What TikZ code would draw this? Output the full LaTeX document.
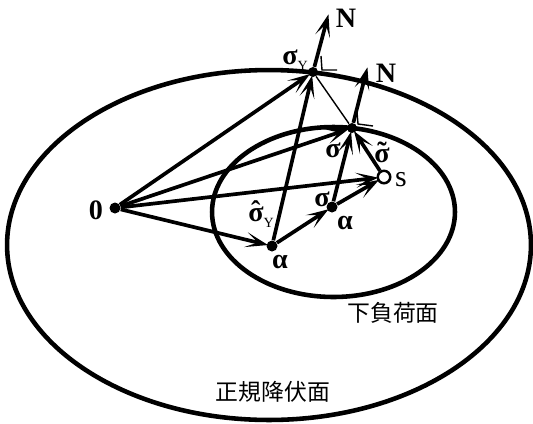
\documentclass[tikz,border=0pt]{standalone}
\usepackage{fontspec}
\setmainfont{Liberation Serif}
\newfontfamily\jpfont{Noto Sans CJK JP}
\usepackage{xcolor}
\usetikzlibrary{arrows.meta}
\definecolor{Ink}{HTML}{000000}
\definecolor{Paper}{HTML}{FFFFFF}
\tikzset{
  pt/.style={circle,fill=Ink,inner sep=0pt,minimum size=0.22cm},
  hollow/.style={circle,draw=Ink,fill=Paper,line width=1.4pt,inner sep=0pt,minimum size=0.25cm},
  vec/.style={-{Stealth[length=4.5mm,width=3mm,inset=2.4mm]},draw=Ink,line width=2.1pt,shorten >=-1pt},
  fineline/.style={draw=Ink,line width=0.8pt},
  surf/.style={draw=Ink,line width=2.6pt},
  tag/.style={font=\fontsize{16}{18}\selectfont\bfseries,text=Ink,inner sep=0pt},
  plain/.style={font=\fontsize{17}{19}\selectfont,text=Ink,inner sep=0pt},
  surfname/.style={font=\jpfont\fontsize{13}{15}\selectfont,text=Ink,inner sep=0pt}
}
\newcommand{\subY}{\raisebox{-0.45ex}{\fontsize{8}{9}\selectfont\mdseries Y}}
\newcommand{\accsig}[1]{\ooalign{σ\cr\hidewidth\raisebox{0.1ex}{#1}\hidewidth\cr}}

\begin{document}
\begin{tikzpicture}[x=0.02cm,y=-0.02cm]
  \useasboundingbox (0,0) rectangle (533,423);
  % surfaces
  \draw[surf] (269,245) ellipse [x radius=5.24cm, y radius=3.5cm];
  \draw[surf] (333.5,212) ellipse [x radius=2.43cm, y radius=1.7cm];
  % points
  \node[pt] (O) at (115,208) {};
  \node[pt] (A1) at (272,246) {};
  \node[pt] (A2) at (332,207) {};
  \node[hollow] (S) at (384,177) {};
  \node[pt,minimum size=0.2cm] (Sig) at (352,128) {};
  \node[pt,minimum size=0.2cm] (SY) at (313,72) {};
  \coordinate (N1) at (328,16);
  \coordinate (N2) at (367,69);
  % vectors
  \draw[fineline] (SY) -- (Sig);
  \draw[vec] (O) -- (SY);
  \draw[vec] (O) -- (Sig);
  \draw[vec] (O) -- (S);
  \draw[vec] (O) -- (A1);
  \draw[vec] (A1) -- (SY);
  \draw[vec] (A1) -- (A2);
  \draw[vec] (A2) -- (Sig);
  \draw[vec] (A2) -- (S);
  \draw[vec] (S) -- (Sig);
  \draw[vec] (SY) -- (N1);
  \draw[vec] (Sig) -- (N2);
  % right angle marks
  \draw[fineline] (321,56) -- (322,70) -- (337,70);
  \draw[fineline] (357,112) -- (358,124) -- (373,126);
  % labels
  \node[tag] (lO) at (96,210) {0};
  \node[tag] (lSY) at (295,60) {σ\subY};
  \node[tag] (lN1) at (346,18) {N};
  \node[tag] (lN2) at (386,73) {N};
  \node[tag] (lSig) at (333,150) {σ};
  \node[tag] (lSt) at (382,155) {\accsig{˜}};
  \node[plain] (lS) at (401,180) {s};
  \node[tag] (lSa) at (322,199) {σ};
  \node[tag] (lA2) at (345,223) {α};
  \node[tag] (lSh) at (261,217) {\accsig{ˆ}\subY};
  \node[tag] (lA1) at (280,262) {α};
  \node[surfname] (sub) at (393,313) {下負荷面};
  \node[surfname] (norm) at (273,392) {正規降伏面};
\end{tikzpicture}
\end{document}
